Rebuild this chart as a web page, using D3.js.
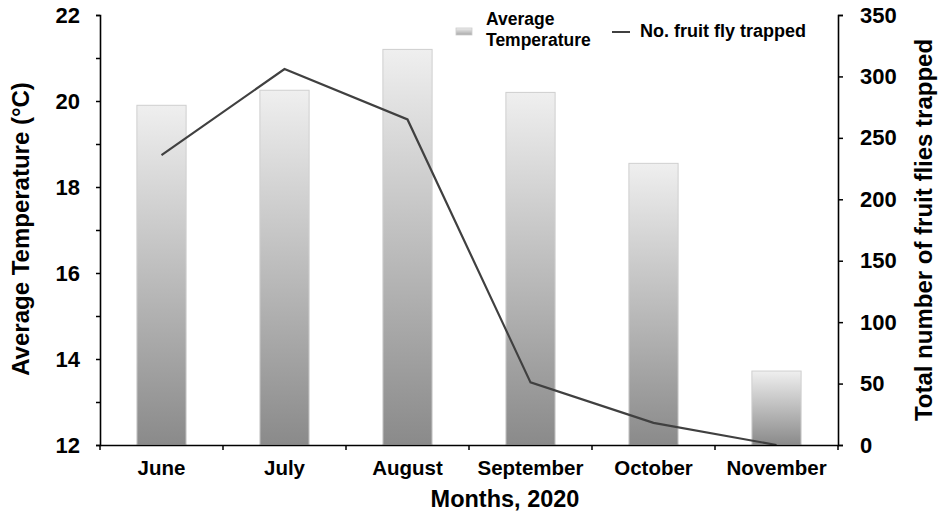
<!DOCTYPE html>
<html><head><meta charset="utf-8">
<script src="https://cdn.jsdelivr.net/npm/d3@7"></script>
<style>body{margin:0;background:#fff}svg{font-family:"Liberation Sans",Arial,sans-serif;font-weight:bold}</style>
</head><body><svg id="c" width="938" height="513"></svg>
<script>
const months = ["June","July","August","September","October","November"];
const avgTemp = [19.9, 20.25, 21.2, 20.2, 18.55, 13.72];
const fliesTrapped = [236, 306, 265, 51, 18, 0];
const tempTicks = [12,14,16,18,20,22];
const fliesTicks = [0,50,100,150,200,250,300,350];

const svg = d3.select("#c");
const L=100, R=838, T=15, B=445;
const x = d3.scaleBand().domain(months).range([L,R]).paddingInner(0).paddingOuter(0);
const yT = d3.scaleLinear().domain([12,22]).range([B,T]);
const yF = d3.scaleLinear().domain([0,350]).range([B,T]);

const defs = svg.append("defs");
const g = defs.append("linearGradient").attr("id","bg").attr("x1",0).attr("y1",0).attr("x2",0).attr("y2",1);
g.append("stop").attr("offset","0%").attr("stop-color","#efefef");
g.append("stop").attr("offset","100%").attr("stop-color","#8a8a8a");
const g2 = defs.append("linearGradient").attr("id","lg").attr("x1",0).attr("y1",0).attr("x2",0).attr("y2",1);
g2.append("stop").attr("offset","0%").attr("stop-color","#eeeeee");
g2.append("stop").attr("offset","100%").attr("stop-color","#a8a8a8");

const bw = x.bandwidth()*0.4;
svg.append("g").selectAll("rect").data(months).join("rect")
  .attr("x",(d)=>x(d)+x.bandwidth()/2-bw/2)
  .attr("y",(d,i)=>yT(avgTemp[i]))
  .attr("width",bw)
  .attr("height",(d,i)=>B-yT(avgTemp[i]))
  .attr("fill","url(#bg)").attr("stroke","#cfcfcf").attr("stroke-width",1);

const line = d3.line().x((d,i)=>x(months[i])+x.bandwidth()/2).y(d=>yF(d));
svg.append("path").datum(fliesTrapped).attr("d",line).attr("fill","none")
  .attr("stroke","#404040").attr("stroke-width",2.2);

// axes
const lAx = svg.append("g").attr("transform",`translate(${L},0)`)
  .call(d3.axisLeft(yT).tickValues(d3.range(12,22.01,1)).tickSize(4).tickFormat(d=>tempTicks.includes(d)?d:"").tickPadding(16));
const rAx = svg.append("g").attr("transform",`translate(${R},0)`)
  .call(d3.axisRight(yF).tickValues(fliesTicks).tickSize(5).tickPadding(17));
const bAx = svg.append("g").attr("transform",`translate(0,${B})`)
  .call(d3.axisBottom(x).tickSize(0).tickPadding(15));
// boundary ticks on x axis
svg.append("g").selectAll("line").data(d3.range(months.length+1)).join("line")
  .attr("x1",i=>L+i*x.step()).attr("x2",i=>L+i*x.step())
  .attr("y1",B).attr("y2",B+5).attr("stroke","#000").attr("stroke-width",1.5);
[lAx,rAx,bAx].forEach(a=>{
  a.selectAll("path.domain").attr("stroke","#000").attr("stroke-width",1.6);
  a.selectAll(".tick line").attr("stroke","#000").attr("stroke-width",1.5);
  a.selectAll("text").attr("font-size","22px").attr("font-weight","bold").attr("fill","#000")
    .attr("font-family","Liberation Sans, Arial, sans-serif");
});
bAx.selectAll("text").attr("font-size","20.5px");

// axis titles
svg.append("text").attr("transform","translate(29,229) rotate(-90)").attr("text-anchor","middle")
  .attr("font-size","24px").text("Average Temperature (°C)");
svg.append("text").attr("transform","translate(932,230) rotate(-90)").attr("text-anchor","middle")
  .attr("font-size","24px").text("Total number of fruit flies trapped");
svg.append("text").attr("x",505).attr("y",507).attr("text-anchor","middle")
  .attr("font-size","23.5px").text("Months, 2020");

// legend
svg.append("rect").attr("x",456).attr("y",28).attr("width",16).attr("height",7).attr("fill","url(#lg)").attr("stroke","#ccc").attr("stroke-width",0.8);
svg.append("text").attr("x",486).attr("y",25).attr("font-size","17.5px").text("Average");
svg.append("text").attr("x",486).attr("y",46).attr("font-size","17.5px").text("Temperature");
svg.append("line").attr("x1",612).attr("x2",630).attr("y1",32).attr("y2",32).attr("stroke","#404040").attr("stroke-width",2);
svg.append("text").attr("x",640).attr("y",37).attr("font-size","18px").text("No. fruit fly trapped");
</script></body></html>
